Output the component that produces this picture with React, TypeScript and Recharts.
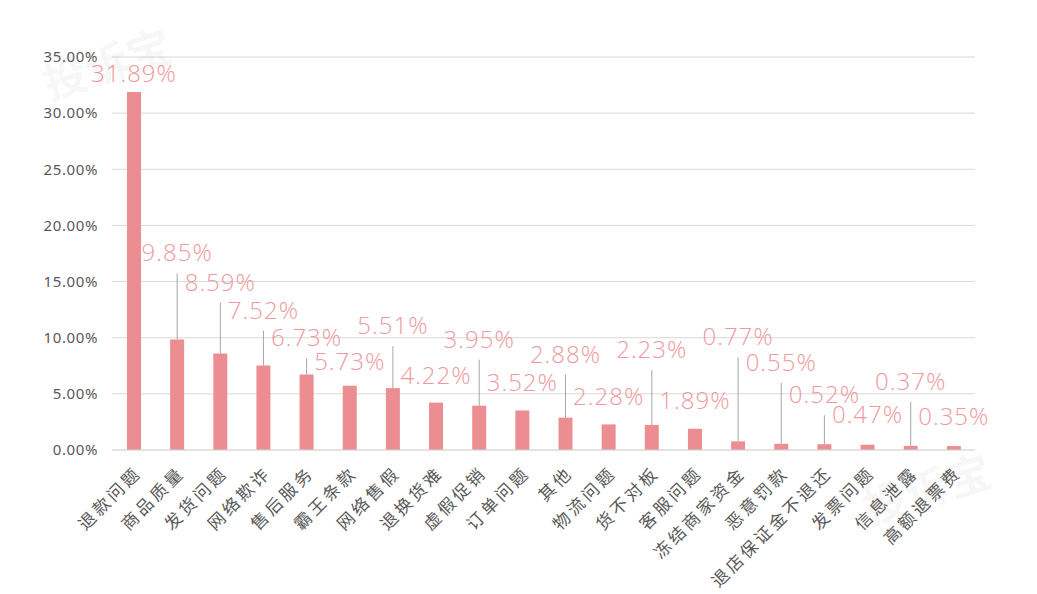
import React from 'react';
import { BarChart, Bar, XAxis, YAxis, CartesianGrid, LabelList } from 'recharts';

const categories = [
  '退款问题', '商品质量', '发货问题', '网络欺诈', '售后服务',
  '霸王条款', '网络售假', '退换货难', '虚假促销', '订单问题',
  '其他', '物流问题', '货不对板', '客服问题', '冻结商家资金',
  '恶意罚款', '退店保证金不退还', '发票问题', '信息泄露', '高额退票费',
];
const shares = [
  31.89, 9.85, 8.59, 7.52, 6.73, 5.73, 5.51, 4.22, 3.95, 3.52,
  2.88, 2.28, 2.23, 1.89, 0.77, 0.55, 0.52, 0.47, 0.37, 0.35,
];
const yTicks = [0, 5, 10, 15, 20, 25, 30, 35];

// how far each value label sits above its bar (px), and whether it gets a leader line
const labelLift = [18, 86, 71, 55, 36, 24, 62, 27, 66, 27, 63, 27, 75, 28, 104, 81, 49, 30, 64, 29];
const hasLeader = [
  false, true, true, true, true, false, true, false, true, false,
  true, false, true, false, true, true, true, false, true, false,
];

const data = categories.map((name, i) => ({ name, share: shares[i] }));

const LABEL_COLOR = '#ee9a9d';
const BAR_COLOR = '#ec8e91';

const ValueLabel = (props: any) => {
  const { index, value } = props;
  const vb = props.viewBox || {};
  const x = props.x ?? vb.x;
  const y = props.y ?? vb.y;
  const w = props.width ?? vb.width;
  const cx = x + w / 2;
  const cy = y - labelLift[index];
  return (
    <g>
      {hasLeader[index] && (
        <line x1={cx} y1={y} x2={cx} y2={cy + 20} stroke="#a6a6a6" strokeWidth={1} />
      )}
      <text
        x={cx}
        y={cy + 8}
        textAnchor="middle"
        fill={LABEL_COLOR}
        fontSize={24}
        fontWeight={300}
        letterSpacing={1}
        fontFamily="'Open Sans', 'Noto Sans', sans-serif"
      >
        {Number(value).toFixed(2)}%
      </text>
    </g>
  );
};

const CategoryTick = (props: any) => {
  const { x, y, payload } = props;
  return (
    <g transform={`translate(${x + 9},${y + 22})`}>
      <text
        textAnchor="end"
        transform="rotate(-45)"
        fill="#595959"
        fontSize={17}
        letterSpacing={3.2}
        fontFamily="'Noto Sans CJK SC', sans-serif"
      >
        {payload.value}
      </text>
    </g>
  );
};

const Watermark = ({ left, top }: { left: number; top: number }) => (
  <div
    style={{
      position: 'absolute',
      left,
      top,
      transform: 'rotate(-18deg)',
      fontSize: 44,
      fontWeight: 700,
      color: 'rgba(0,0,0,0.05)',
      fontFamily: "'Noto Sans CJK SC', sans-serif",
      pointerEvents: 'none',
      whiteSpace: 'nowrap',
    }}
  >
    投诉宝
  </div>
);

export default function App() {
  return (
    <div style={{ position: 'absolute', left: 0, top: 0, width: 1037, height: 594, background: '#fff' }}>
      <BarChart
        width={1037}
        height={594}
        data={data}
        margin={{ top: 57, right: 62, left: 0, bottom: 0 }}
      >
        <CartesianGrid vertical={false} stroke="#d9d9d9" />
        <XAxis
          dataKey="name"
          interval={0}
          tick={<CategoryTick />}
          tickLine={false}
          tickSize={0}
          axisLine={{ stroke: '#d9d9d9' }}
          height={144}
        />
        <YAxis
          width={112}
          domain={[0, 35]}
          ticks={yTicks}
          tickFormatter={(v: number) => `${v.toFixed(2)}%`}
          tickLine={false}
          axisLine={false}
          tickMargin={8}
          tick={{ fill: '#595959', fontSize: 15, letterSpacing: 0.6, fontFamily: "'Noto Sans', sans-serif" }}
        />
        <Bar dataKey="share" fill={BAR_COLOR} barSize={14} isAnimationActive={false}>
          <LabelList dataKey="share" content={<ValueLabel />} />
        </Bar>
      </BarChart>
      <Watermark left={40} top={30} />
      <Watermark left={860} top={455} />
    </div>
  );
}
